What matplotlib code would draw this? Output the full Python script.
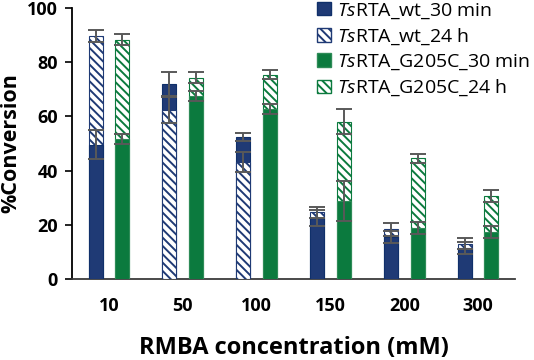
import numpy as np
import matplotlib
matplotlib.use("Agg")
import matplotlib.pyplot as plt
from matplotlib.patches import Patch

# values (%conversion)
concentrations = ["10", "50", "100", "150", "200", "300"]
wt_30min = [49.5, 72.0, 52.4, 22.6, 15.5, 11.3]
wt_30min_err = [5.3, 4.5, 1.6, 2.9, 2.3, 2.2]
wt_24h = [89.6, 62.4, 43.3, 24.6, 18.3, 13.0]
wt_24h_err = [2.3, 4.9, 3.7, 2.1, 2.3, 2.0]
g205c_30min = [51.7, 67.5, 62.6, 28.8, 18.7, 17.4]
g205c_30min_err = [1.9, 1.9, 1.9, 7.3, 2.2, 2.3]
g205c_24h = [88.3, 74.3, 75.3, 58.1, 44.5, 30.6]
g205c_24h_err = [2.0, 2.0, 1.7, 4.6, 1.7, 2.3]

plt.rcParams['font.family'] = ['Open Sans', 'DejaVu Sans']
plt.rcParams['mathtext.fontset'] = 'custom'
plt.rcParams['mathtext.it'] = 'Open Sans:italic'
plt.rcParams['mathtext.rm'] = 'Open Sans'
plt.rcParams['hatch.linewidth'] = 1.4

BLUE = '#1F3A75'
BLUE_EDGE = '#10306A'
GREEN = '#0B7A3E'
GREEN_EDGE = '#2E8B57'
ERR = '#595959'

fig = plt.figure(figsize=(5.34, 3.6), dpi=100)
ax = fig.add_axes([0.1348, 0.225, 0.8296, 0.753])

x = np.arange(len(concentrations))
width = 0.19
offset = 0.18


def draw_pair(xpos, solid, solid_err, hatched, hatched_err, color, edge):
    for i in range(len(xpos)):
        solid_bar = dict(height=solid[i], color=color, edgecolor=edge, linewidth=0.8)
        hatch_bar = dict(height=hatched[i], facecolor='white', edgecolor=color,
                         hatch='\\\\\\\\', linewidth=0.8)
        # taller bar goes behind, shorter one in front
        if hatched[i] >= solid[i]:
            ax.bar(xpos[i], width=width, zorder=2, **hatch_bar)
            ax.bar(xpos[i], width=width, zorder=3, **solid_bar)
        else:
            ax.bar(xpos[i], width=width, zorder=2, **solid_bar)
            ax.bar(xpos[i], width=width, zorder=3, **hatch_bar)
    for vals, errs in [(solid, solid_err), (hatched, hatched_err)]:
        ax.errorbar(xpos, vals, yerr=errs, fmt='none', ecolor=ERR,
                    elinewidth=1.4, capsize=6, capthick=1.4, zorder=4)


draw_pair(x - offset, wt_30min, wt_30min_err, wt_24h, wt_24h_err, BLUE, BLUE_EDGE)
draw_pair(x + offset, g205c_30min, g205c_30min_err, g205c_24h, g205c_24h_err, GREEN, GREEN_EDGE)

ax.set_xlim(-0.5, len(concentrations) - 0.5)
ax.set_ylim(0, 100)
ax.set_yticks(range(0, 101, 20))
ax.set_xticks(x)
ax.set_xticklabels(concentrations)
ax.tick_params(axis='x', length=0, pad=13, labelsize=13)
ax.tick_params(axis='y', direction='out', length=5, width=1.2, pad=5, labelsize=13)
for lbl in ax.get_xticklabels() + ax.get_yticklabels():
    lbl.set_fontweight('bold')

ax.spines['top'].set_visible(False)
ax.spines['right'].set_visible(False)
ax.spines['left'].set_linewidth(1.3)
ax.spines['bottom'].set_linewidth(1.3)
ax.spines['bottom'].set_color('#3a3a3a')

ax.set_xlabel('RMBA concentration (mM)', fontsize=17, fontweight='bold', labelpad=15)
ax.set_ylabel('%Conversion', fontsize=15.5, fontweight='bold')
ax.yaxis.set_label_coords(-0.115, 0.5)

handles = [
    Patch(facecolor=BLUE, edgecolor=BLUE_EDGE),
    Patch(facecolor='white', edgecolor=BLUE, hatch='\\\\\\\\'),
    Patch(facecolor=GREEN, edgecolor=GREEN_EDGE),
    Patch(facecolor='white', edgecolor=GREEN, hatch='\\\\\\\\'),
]
labels = [r'$\it{Ts}$RTA_wt_30 min', r'$\it{Ts}$RTA_wt_24 h',
          r'$\it{Ts}$RTA_G205C_30 min', r'$\it{Ts}$RTA_G205C_24 h']
fig.legend(handles, labels, loc='upper left', bbox_to_anchor=(0.594, 0.997),
           bbox_transform=fig.transFigure, frameon=False, fontsize=14,
           handlelength=0.7, handleheight=0.7, handletextpad=0.3,
           labelspacing=0.3, borderpad=0, borderaxespad=0)

fig.savefig('out.png', dpi=100)
